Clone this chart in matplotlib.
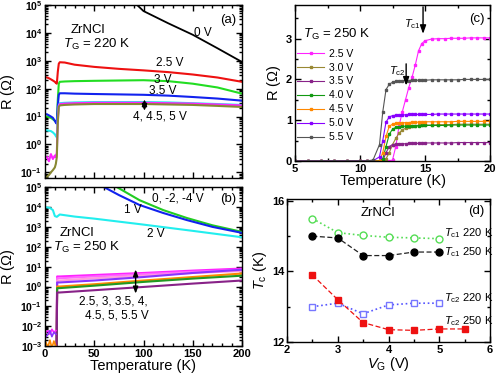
import numpy as np
import matplotlib
matplotlib.use("Agg")
import matplotlib.pyplot as plt
from matplotlib.ticker import FuncFormatter, LogLocator, MultipleLocator

plt.rcParams['font.family'] = ['Liberation Sans', 'DejaVu Sans']
plt.rcParams['mathtext.fontset'] = 'custom'
plt.rcParams['mathtext.rm'] = 'Liberation Sans'
plt.rcParams['mathtext.it'] = 'Liberation Sans:italic'
plt.rcParams['mathtext.bf'] = 'Liberation Sans:bold'

# ---- panel (a): TG = 220 K ----
Ta = [2, 4, 6, 8, 10, 11, 12, 13, 14, 15, 20, 30, 50, 75, 100, 125, 150, 175, 200]
Ra_25 = [250, 235, 215, 195, 175, 160, 150, 400, 780, 880, 860, 720, 600, 510, 450, 390, 320, 250, 175]
Ra_30 = [10, 9.5, 9, 8, 7, 6.5, 6.5, 40, 150, 175, 180, 185, 190, 195, 200, 185, 150, 110, 66]
Ra_35 = [12, 11, 10, 9, 7, 6, 5.5, 25, 60, 68, 68, 66, 64, 62, 60, 56, 50, 44, 37]
Ra_40 = [3.2, 3.1, 3.0, 2.7, 2.3, 2.0, 1.8, 10, 25, 30, 31, 32, 33, 33, 33, 32, 30, 28, 26]
Ra_45 = [0.35, 0.25, 0.45, 0.3, 0.4, 0.35, 0.5, 8, 24, 28, 29, 30, 31, 31, 31, 30, 29, 27, 25]
Ra_50 = [0.07, 0.08, 0.1, 0.12, 0.15, 0.2, 0.35, 6, 22, 25, 26, 27, 28, 28, 28, 27, 26, 24, 22]
Ta_0 = [90, 100, 125, 150, 175, 200]
Ra_0 = [1.3e5, 6e4, 2.2e4, 8.5e3, 2.8e3, 9e2]

# ---- panel (b): TG = 250 K ----
Tb_1 = [55, 60, 75, 96, 120, 144, 170, 200]
Rb_1 = [1.4e5, 1e5, 4e4, 1.26e4, 5e3, 2.2e3, 1e3, 5e2]
Tb_0 = [68, 73, 96, 120, 144, 170, 200]
Rb_0 = [1.4e5, 1e5, 2.2e4, 7e3, 2.8e3, 1.2e3, 5.6e2]
Tb_2 = [2, 5, 8, 10, 12, 15, 30, 50, 100, 150, 200]
Rb_2 = [9.5e3, 9e3, 7e3, 3.5e3, 3.2e3, 4.2e3, 3.3e3, 2.6e3, 1.3e3, 6.3e2, 3e2]
Tb_lo = [11.8, 12.3, 15, 50, 100, 150, 200]
Rb_lo = {
    '2.5': [5e-4, 3.2, 3.2, 3.8, 4.8, 6.3, 8.0],
    '3.0': [5e-4, 2.6, 2.6, 3.2, 4.2, 5.5, 6.8],
    '3.5': [5e-4, 2.0, 2.0, 2.6, 3.5, 4.8, 6.0],
    '4.0': [5e-4, 1.6, 1.6, 2.0, 3.0, 4.8, 7.0],
    '4.5': [5e-4, 1.0, 1.0, 1.3, 2.0, 3.0, 4.5],
    '5.0': [5e-4, 0.83, 0.83, 1.1, 1.7, 2.5, 3.5],
    '5.5': [5e-4, 0.5, 0.5, 0.65, 0.95, 1.4, 2.0],
}
Tb_noise = [1, 3, 5, 7, 9, 11]
Rb_noise_mag = [0.005, 0.006, 0.004, 0.007, 0.005, 0.006]
Rb_noise_vio = [0.003, 0.004, 0.006, 0.003, 0.005, 0.004]
Rb_noise_ora = [0.0015, 0.0009, 0.002, 0.0008, 0.0018, 0.001]

# ---- panel (c): R(T) near Tc, TG = 250 K ----
Tc_T = [5, 6, 7, 8, 9, 10, 10.5, 11, 11.5, 11.75, 12, 12.25, 12.5, 12.75, 13, 13.25, 13.5,
        13.75, 14, 14.25, 14.5, 14.75, 15, 15.5, 16, 16.5, 17, 17.5, 18, 18.5, 19, 19.5, 20]
Rc = {
    '2.5 V': [0]*12 + [0.02, 0.35, 0.85, 1.2, 1.5, 1.8, 2.05, 2.35, 2.7, 2.88, 2.95, 2.99, 3.0,
                       3.0, 3.01, 3.01, 3.01, 3.02, 3.02, 3.02, 3.02],
    '3.0 V': [0]*10 + [0.05, 0.2, 0.4, 0.55, 0.68, 0.76, 0.8, 0.83, 0.85, 0.86, 0.87, 0.87, 0.88,
                       0.88, 0.89, 0.89, 0.89, 0.9, 0.9, 0.9, 0.9, 0.9, 0.9],
    '3.5 V': [0]*10 + [0.2, 0.35, 0.4, 0.41, 0.42, 0.42, 0.42, 0.43, 0.43, 0.43, 0.43, 0.43, 0.44,
                       0.44, 0.44, 0.44, 0.44, 0.45, 0.45, 0.45, 0.45, 0.45, 0.45],
    '4.0 V': [0]*9 + [0.05, 0.35, 0.65, 0.78, 0.82, 0.84, 0.85, 0.85, 0.86, 0.86, 0.86, 0.86, 0.87,
                      0.87, 0.87, 0.87, 0.87, 0.88, 0.88, 0.88, 0.88, 0.88, 0.88, 0.88],
    '4.5 V': [0]*9 + [0.2, 0.6, 0.85, 0.9, 0.92, 0.93, 0.93, 0.94, 0.94, 0.95, 0.95, 0.95, 0.95,
                      0.96, 0.96, 0.96, 0.96, 0.96, 0.97, 0.97, 0.97, 0.97, 0.97, 0.97],
    '5.0 V': [0]*8 + [0.1, 0.5, 0.95, 1.08, 1.11, 1.12, 1.13, 1.13, 1.13, 1.14, 1.14, 1.14, 1.14,
                      1.14, 1.14, 1.14, 1.15, 1.15, 1.15, 1.15, 1.15, 1.15, 1.15, 1.15, 1.15],
    '5.5 V': [0]*7 + [0.02, 0.4, 1.2, 1.75, 1.88, 1.93, 1.95, 1.96, 1.97, 1.97, 1.97, 1.98, 1.98,
                      1.98, 1.98, 1.98, 1.99, 1.99, 1.99, 1.99, 1.99, 2.0, 2.0, 2.0, 2.0, 2.0],
}

# ---- panel (d): Tc vs VG ----
Vg = [2.5, 3, 3.5, 4, 4.5, 5]
Vg_55 = [2.5, 3, 3.5, 4, 4.5, 5, 5.5]
Tc1_220 = [15.5, 15.1, 15.02, 14.97, 14.95, 14.93]
Tc1_250 = [15.0, 14.95, 14.45, 14.45, 14.55, 14.55]
Tc2_220 = [13.0, 13.1, 12.8, 13.05, 13.1, 13.1]
Tc2_250 = [13.9, 13.2, 12.55, 12.35, 12.33, 12.37, 12.37]


def logfmt(v, pos):
    return r'$\mathbf{10^{%d}}$' % int(round(np.log10(v)))


def style(ax):
    ax.tick_params(which='both', direction='in', top=True, right=True, width=1, pad=2)
    ax.tick_params(which='major', length=4, labelsize=8)
    ax.tick_params(which='minor', length=2)
    for s in ax.spines.values():
        s.set_linewidth(1)
    for lab in ax.get_xticklabels() + ax.get_yticklabels():
        lab.set_fontweight('bold')


def logaxis(ax):
    ax.set_yscale('log')
    ax.yaxis.set_major_locator(LogLocator(base=10, numticks=20))
    ax.yaxis.set_minor_locator(LogLocator(base=10, subs=np.arange(2, 10), numticks=20))
    ax.yaxis.set_major_formatter(FuncFormatter(logfmt))
    ax.set_xlim(0, 200)
    ax.xaxis.set_major_locator(MultipleLocator(50))
    ax.xaxis.set_minor_locator(MultipleLocator(10))


fig = plt.figure(figsize=(5, 3.75), dpi=100)
fs_lab = 10.5
fs_txt = 8.5

# (a)
axa = fig.add_axes([0.09, 0.525, 0.394, 0.462])
logaxis(axa)
axa.set_ylim(0.062, 1e5)
axa.plot(Ta_0, Ra_0, color='black', lw=1.3)
axa.plot(Ta, Ra_25, color='#ee1111', lw=1.5)
axa.plot(Ta, Ra_30, color='#22dd22', lw=1.5)
axa.plot(Ta, Ra_35, color='#1122ee', lw=1.5)
axa.plot(Ta, Ra_40, color='#22eeee', lw=1.5)
axa.plot(Ta, Ra_45, color='#ff22ff', lw=1.5)
axa.plot(Ta, Ra_50, color='#888833', lw=1.5)
axa.set_xticklabels([])
axa.set_ylabel(r'R ($\Omega$)', fontsize=fs_lab)
axa.yaxis.set_label_coords(-0.14, 0.5)
axa.text(160, 10**4.0, '0 V', fontsize=fs_txt, ha='center', va='center')
axa.text(127, 10**2.93, '2.5 V', fontsize=fs_txt, ha='center', va='center')
axa.text(120, 10**2.32, '3 V', fontsize=fs_txt, ha='center', va='center')
axa.text(120, 10**1.93, '3.5 V', fontsize=fs_txt, ha='center', va='center')
axa.text(117, 10**1.0, '4, 4.5, 5 V', fontsize=fs_txt, ha='center', va='center')
axa.annotate('', xy=(101, 10**1.1), xytext=(101, 10**1.72),
             arrowprops=dict(arrowstyle='<|-|>,head_length=0.4,head_width=0.15', color='black', lw=1))
axa.text(0.22, 0.855, 'ZrNCl', transform=axa.transAxes, fontsize=9.5, ha='center', va='center')
axa.text(0.09, 0.77, r'$T_{\rm G}$ = 220 K', transform=axa.transAxes, fontsize=9.5, ha='left', va='center')
axa.text(0.97, 0.95, '(a)', transform=axa.transAxes, fontsize=9.5, ha='right', va='top')
style(axa)
axa.tick_params(axis='y', which='major', labelsize=7.5)

# (b)
axb = fig.add_axes([0.09, 0.077, 0.394, 0.424])
logaxis(axb)
axb.set_ylim(1e-3, 1e5)
axb.plot(Tb_0, Rb_0, color='#22cc22', lw=1.5)
axb.plot(Tb_1, Rb_1, color='#1122ee', lw=1.5)
axb.plot(Tb_2, Rb_2, color='#22eeee', lw=1.5)
lo_colors = {'2.5': '#ff22ff', '3.0': '#ff66ff', '3.5': '#ff99dd', '4.0': '#8833ff',
             '4.5': '#ff8800', '5.0': '#229922', '5.5': '#882288'}
for k, v in Rb_lo.items():
    axb.plot(Tb_lo, v, color=lo_colors[k], lw=1.5)
axb.plot(Tb_noise, Rb_noise_mag, color='#ff22ff', lw=1.2)
axb.plot(Tb_noise, Rb_noise_vio, color='#8833ff', lw=1.2)
axb.plot(Tb_noise, Rb_noise_ora, color='#ff8800', lw=1.2)
axb.set_xlabel('Temperature (K)', fontsize=fs_lab, labelpad=0)
axb.set_ylabel(r'R ($\Omega$)', fontsize=fs_lab)
axb.yaxis.set_label_coords(-0.14, 0.5)
axb.text(135, 10**4.45, '0, -2, -4 V', fontsize=fs_txt, ha='center', va='center')
axb.text(89, 10**3.85, '1 V', fontsize=fs_txt, ha='center', va='center')
axb.text(112, 10**2.65, '2 V', fontsize=fs_txt, ha='center', va='center')
axb.text(32, 10**2.7, 'ZrNCl', fontsize=9.5, ha='center', va='center')
axb.text(8, 10**1.95, r'$T_{\rm G}$ = 250 K', fontsize=9.5, ha='left', va='center')
axb.text(69, 10**-0.75, '2.5, 3, 3.5, 4,', fontsize=fs_txt, ha='center', va='center')
axb.text(73, 10**-1.45, '4.5, 5, 5.5 V', fontsize=fs_txt, ha='center', va='center')
axb.annotate('', xy=(92, 10**-0.5), xytext=(92, 10**1.0),
             arrowprops=dict(arrowstyle='<|-|>,head_length=0.4,head_width=0.15', color='black', lw=1))
axb.text(0.97, 0.96, '(b)', transform=axb.transAxes, fontsize=9.5, ha='right', va='top')
style(axb)
axb.tick_params(axis='y', which='major', labelsize=7.5)

# (c)
axc = fig.add_axes([0.59, 0.571, 0.39, 0.416])
c_colors = {'2.5 V': '#ff22ff', '3.0 V': '#998833', '3.5 V': '#882288', '4.0 V': '#119911',
            '4.5 V': '#ff8800', '5.0 V': '#8800ff', '5.5 V': '#555555'}
for k, v in Rc.items():
    axc.plot(Tc_T, v, color=c_colors[k], lw=0.8, marker='s', ms=1.8, label=k)
axc.set_xlim(5, 20)
axc.set_ylim(0, 3.83)
axc.xaxis.set_major_locator(MultipleLocator(5))
axc.xaxis.set_minor_locator(MultipleLocator(2.5))
axc.yaxis.set_major_locator(MultipleLocator(1))
axc.yaxis.set_minor_locator(MultipleLocator(0.5))
axc.set_xlabel('Temperature (K)', fontsize=fs_lab, labelpad=0)
axc.set_ylabel(r'R ($\Omega$)', fontsize=fs_lab, labelpad=2)
axc.legend(loc='upper left', bbox_to_anchor=(-0.02, 0.76), frameon=False, fontsize=7.5,
           handlelength=2.6, labelspacing=0.38, borderaxespad=0.2, handletextpad=0.4)
axc.text(0.04, 0.81, r'$T_{\rm G}$ = 250 K', transform=axc.transAxes, fontsize=9.5, ha='left', va='center')
axc.annotate('', xy=(14.85, 3.05), xytext=(14.85, 3.85),
             arrowprops=dict(arrowstyle='-|>,head_length=0.5,head_width=0.18', color='black', lw=1))
axc.text(14.05, 3.35, r'$T_{\rm c1}$', fontsize=8, ha='center', va='center')
axc.annotate('', xy=(13.55, 1.78), xytext=(13.55, 2.45),
             arrowprops=dict(arrowstyle='-|>,head_length=0.5,head_width=0.18', color='black', lw=1))
axc.text(12.85, 2.2, r'$T_{\rm c2}$', fontsize=8, ha='center', va='center')
axc.text(0.97, 0.95, '(c)', transform=axc.transAxes, fontsize=9.5, ha='right', va='top')
style(axc)

# (d)
axd = fig.add_axes([0.574, 0.088, 0.406, 0.381])
axd.plot(Vg, Tc1_220, color='#55dd55', ls=':', lw=1.2, marker='o', ms=5, mfc='white', mec='#55dd55')
axd.plot(Vg, Tc1_250, color='#222222', ls=(0, (4, 2)), lw=0.9, marker='o', ms=5, mfc='black', mec='black')
axd.plot(Vg, Tc2_220, color='#5555ff', ls=':', lw=1.2, marker='s', ms=5, mfc='white', mec='#7777ff')
axd.plot(Vg_55, Tc2_250, color='#ee1111', ls=(0, (4, 2)), lw=0.9, marker='s', ms=5)
axd.set_xlim(2, 6)
axd.set_ylim(12, 16.05)
axd.xaxis.set_major_locator(MultipleLocator(1))
axd.xaxis.set_minor_locator(MultipleLocator(0.5))
axd.yaxis.set_major_locator(MultipleLocator(2))
axd.yaxis.set_minor_locator(MultipleLocator(1))
axd.set_xlabel(r'$V_{\rm G}$ (V)', fontsize=fs_lab, labelpad=0)
axd.set_ylabel(r'$T_{\rm c}$ (K)', fontsize=fs_lab, labelpad=2)
axd.text(3.8, 15.66, 'ZrNCl', fontsize=9.5, ha='center', va='center')
axd.text(5.1, 15.1, r'$T_{\rm c1}$ 220 K', fontsize=8, ha='left', va='center')
axd.text(5.1, 14.55, r'$T_{\rm c1}$ 250 K', fontsize=8, ha='left', va='center')
axd.text(5.1, 13.24, r'$T_{\rm c2}$ 220 K', fontsize=8, ha='left', va='center')
axd.text(5.1, 12.6, r'$T_{\rm c2}$ 250 K', fontsize=8, ha='left', va='center')
axd.text(0.97, 0.96, '(d)', transform=axd.transAxes, fontsize=9.5, ha='right', va='top')
style(axd)

fig.savefig('out.png', dpi=100)
